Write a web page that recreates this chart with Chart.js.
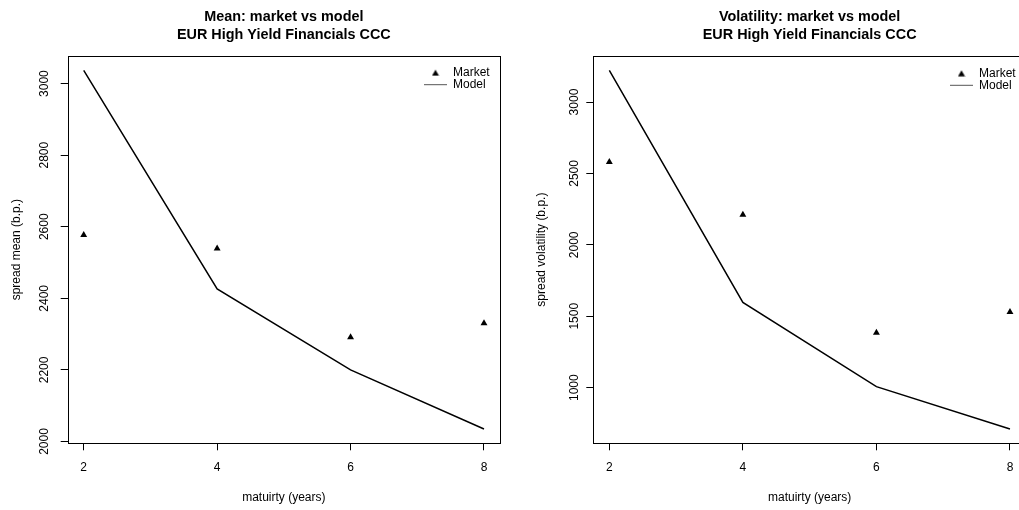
<!DOCTYPE html>
<html>
<head>
<meta charset="utf-8">
<script src="https://cdn.jsdelivr.net/npm/chart.js@4.4.1/dist/chart.umd.min.js"></script>
<style>
  html, body { margin: 0; padding: 0; background: #fff; overflow: hidden; }
  #wrap { position: relative; width: 1019px; height: 510px; overflow: hidden; }
  #meanChart { position: absolute; left: 0; top: 0; }
  #volChart { position: absolute; left: 510px; top: 0; }
</style>
</head>
<body>
<div id="wrap">
  <canvas id="meanChart" width="510" height="510"></canvas>
  <canvas id="volChart" width="520" height="510"></canvas>
</div>
<script>
// values
const maturities = [2, 4, 6, 8];
const xTicks = [2, 4, 6, 8];
const meanMarket = [2577, 2539, 2291, 2330];
const meanModel = [3037, 2426, 2200, 2035];
const meanTicks = [2000, 2200, 2400, 2600, 2800, 3000];
const volMarket = [2580, 2210, 1385, 1529];
const volModel = [3222, 1597, 1007, 711];
const volTicks = [1000, 1500, 2000, 2500, 3000];

Chart.defaults.font.family = '"Liberation Sans", Arial, Helvetica, sans-serif';
Chart.defaults.color = '#000';

// R pads the data range by 4% on each side
function rRange(values) {
	const lo = Math.min(...values);
	const hi = Math.max(...values);
	const pad = (hi - lo) * 0.04;
	return [lo - pad, hi + pad];
}

// small filled triangle for the legend (pointStyleWidth would stretch the built-in one)
const legendTri = document.createElement('canvas');
legendTri.width = 8;
legendTri.height = 7;
(function () {
	const c = legendTri.getContext('2d');
	c.fillStyle = '#000';
	c.beginPath();
	c.moveTo(4, 0.5);
	c.lineTo(7.5, 6.5);
	c.lineTo(0.5, 6.5);
	c.closePath();
	c.fill();
})();

// full box round the plot region, like R's box()
const boxPlugin = {
	id: 'rBox',
	afterDraw(chart) {
		const a = chart.chartArea;
		const ctx = chart.ctx;
		ctx.save();
		ctx.strokeStyle = '#000';
		ctx.lineWidth = 1;
		ctx.strokeRect(Math.round(a.left) + 0.5, Math.round(a.top) + 0.5, Math.round(a.right - a.left), Math.round(a.bottom - a.top));
		ctx.restore();
	}
};

// move the legend to the top right corner of the plot
const legendPos = {
	id: 'legendPos',
	afterLayout(chart, args, opts) {
		if (!chart.legend) return;
		chart.legend.left = opts.left;
		chart.legend.top = opts.top;
	}
};

function makeChart(id, cfg) {
	const xr = rRange(maturities);
	const yr = rRange(cfg.market.concat(cfg.model));
	const tickGrid = { drawOnChartArea: false, drawTicks: true, tickLength: 7, color: '#000', lineWidth: 1 };
	return new Chart(document.getElementById(id), {
		type: 'scatter',
		data: {
			datasets: [
				{
					label: 'Market',
					data: maturities.map((m, i) => ({ x: m, y: cfg.market[i] })),
					pointStyle: 'triangle',
					pointRadius: 4,
					pointBorderWidth: 0,
					backgroundColor: '#000',
					pointBackgroundColor: '#000',
					borderColor: '#000',
					borderWidth: 0
				},
				{
					label: 'Model',
					data: maturities.map((m, i) => ({ x: m, y: cfg.model[i] })),
					showLine: true,
					pointStyle: 'line',
					pointRadius: 0,
					pointBorderWidth: 1,
					pointBorderColor: '#555',
					borderColor: '#000',
					borderWidth: 1.5,
					tension: 0
				}
			]
		},
		options: {
			responsive: false,
			animation: false,
			layout: { padding: { left: 0, right: cfg.padRight, top: 0, bottom: 0 } },
			plugins: {
				title: {
					display: true,
					fullSize: false,
					text: [cfg.title, 'EUR High Yield Financials CCC'],
					color: '#000',
					font: { size: 14.4, weight: 'bold', lineHeight: 1.27 },
					padding: { top: 7.5, bottom: 11.9 }
				},
				legend: {
					position: 'chartArea',
					align: 'start',
					labels: {
						usePointStyle: true,
						pointStyleWidth: 23,
						boxHeight: 6.5,
						padding: 0,
						color: '#000',
						font: { size: 12 },
						generateLabels: (chart) => {
							const items = Chart.defaults.plugins.legend.labels.generateLabels(chart);
							items[0].pointStyle = legendTri;
							return items;
						}
					}
				},
				tooltip: { enabled: false },
				legendPos: { left: cfg.legendLeft, top: cfg.legendTop }
			},
			scales: {
				x: {
					type: 'linear',
					min: xr[0],
					max: xr[1],
					afterBuildTicks: (s) => { s.ticks = xTicks.map((v) => ({ value: v })); },
					afterFit: (s) => { s.height = 66.7; },
					grid: tickGrid,
					border: { display: false },
					ticks: { color: '#000', font: { size: 12 }, padding: 10, maxRotation: 0, autoSkip: false, callback: (v) => String(v) },
					title: { display: true, text: 'matuirty (years)', color: '#000', font: { size: 12 }, padding: { top: 0, bottom: 5.5 } }
				},
				y: {
					type: 'linear',
					min: yr[0],
					max: yr[1],
					afterBuildTicks: (s) => { s.ticks = cfg.yTicks.map((v) => ({ value: v })); },
					afterFit: (s) => { s.width = cfg.yWidth; },
					grid: tickGrid,
					border: { display: false },
					ticks: { color: '#000', font: { size: 12 }, padding: cfg.yTickPad, minRotation: 90, maxRotation: 90, crossAlign: 'center', autoSkip: false, callback: (v) => String(v) },
					title: { display: true, text: cfg.yLabel, color: '#000', font: { size: 12 }, padding: { top: cfg.yTitlePad, bottom: 0 } }
				}
			}
		},
		plugins: [boxPlugin, legendPos]
	});
}

makeChart('meanChart', {
	title: 'Mean: market vs model',
	yLabel: 'spread mean (b.p.)',
	market: meanMarket,
	model: meanModel,
	yTicks: meanTicks,
	yWidth: 67.7,
	yTickPad: 2.4,
	yTitlePad: 9.8,
	padRight: 10,
	legendLeft: 424,
	legendTop: 66.7
});

makeChart('volChart', {
	title: 'Volatility: market vs model',
	yLabel: 'spread volatility (b.p.)',
	market: volMarket,
	model: volModel,
	yTicks: volTicks,
	yWidth: 83.3,
	yTickPad: -2,
	yTitlePad: 24.5,
	padRight: 4,
	legendLeft: 440,
	legendTop: 67.3
});
</script>
</body>
</html>
